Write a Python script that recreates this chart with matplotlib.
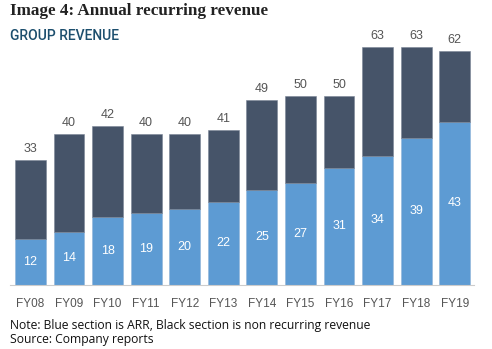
import matplotlib
matplotlib.use("Agg")
import matplotlib.pyplot as plt

years = ["FY08", "FY09", "FY10", "FY11", "FY12", "FY13", "FY14", "FY15", "FY16", "FY17", "FY18", "FY19"]
arr = [12, 14, 18, 19, 20, 22, 25, 27, 31, 34, 39, 43]
total = [33, 40, 42, 40, 40, 41, 49, 50, 50, 63, 63, 62]
nonrec = [t - a for t, a in zip(total, arr)]

W, H = 492, 349
fig = plt.figure(figsize=(W / 100, H / 100), dpi=100)
ax_left, ax_right, ax_bottom, ax_top = 10, 474, 284.5, 32
ax = fig.add_axes([ax_left / W, 1 - ax_bottom / H, (ax_right - ax_left) / W, (ax_bottom - ax_top) / H])

dark = "#465469"
blue = "#5d9bd3"
x = list(range(len(years)))
ax.bar(x, arr, width=0.8, color=blue, edgecolor="#8fb3d9", linewidth=0.4)
ax.bar(x, nonrec, bottom=arr, width=0.8, color=dark, edgecolor="#7a8596", linewidth=0.4)

for i, (a, t) in enumerate(zip(arr, total)):
    ax.text(i, a / 2, str(a), ha="center", va="center", color="white", fontsize=9,
            family="Liberation Sans")
    ax.text(i, t + 1.3, str(t), ha="center", va="bottom", color="#555555", fontsize=9,
            family="Liberation Sans")

ax.set_xlim(-0.53, 11.5)
ax.set_ylim(0, 67)
ax.set_xticks(x)
ax.set_xticklabels(years, color="#555555", fontsize=8.5, family="Liberation Sans")
ax.tick_params(axis="x", length=0, pad=10)
ax.set_yticks([])
for s in ["top", "right", "left"]:
    ax.spines[s].set_visible(False)
ax.spines["bottom"].set_color("#cccccc")
ax.spines["bottom"].set_linewidth(0.8)

fig.text(10 / W, 1 - 11 / H, "Image 4: Annual recurring revenue", family="Liberation Serif",
         fontweight="bold", fontsize=12.3, color="#222222", va="center", ha="left")
fig.text(10 / W, 1 - 36 / H, "GROUP REVENUE", family=["Roboto", "DejaVu Sans"],
         fontweight="medium", fontsize=10, color="#1d4f6e", va="center", ha="left")
fig.text(10 / W, 1 - 325 / H, "Note: Blue section is ARR, Black section is non recurring revenue",
         family="Open Sans", fontsize=8.7, color="#111111", va="center", ha="left")
fig.text(10 / W, 1 - 339 / H, "Source: Company reports",
         family="Open Sans", fontsize=8.7, color="#111111", va="center", ha="left")

fig.savefig("out.png", dpi=100)
